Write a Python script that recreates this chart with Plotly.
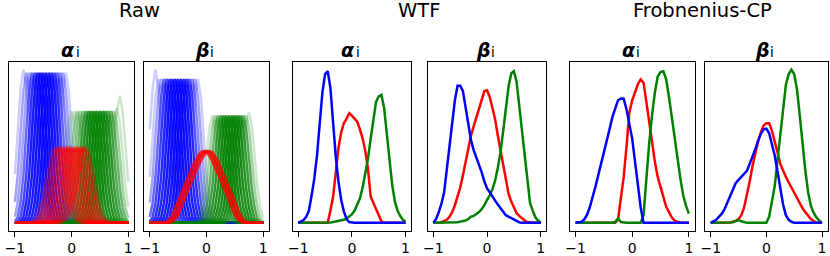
import numpy as np
import plotly.graph_objects as go

# ---------------- data ----------------
x_grid = np.linspace(-1, 1, 41)          # step 0.05

# WTF
wtf_alpha_blue = [0, 0.007, 0.018, 0.04, 0.08, 0.18, 0.29, 0.44, 0.63, 0.85,
                  0.97, 0.99, 0.88, 0.64, 0.43, 0.27, 0.15, 0.075, 0.025, 0.005,
                  0, 0, 0, 0, 0, 0, 0, 0, 0, 0,
                  0, 0, 0, 0, 0, 0, 0, 0, 0, 0, 0]
wtf_alpha_red = [0, 0, 0, 0, 0, 0, 0, 0, 0, 0,
                 0, 0, 0.08, 0.17, 0.33, 0.49, 0.59, 0.65, 0.68, 0.715,
                 0.70, 0.68, 0.66, 0.61, 0.55, 0.47, 0.35, 0.17, 0.13, 0.08,
                 0.04, 0.01, 0, 0, 0, 0, 0, 0, 0, 0, 0]
wtf_alpha_green = [0, 0, 0, 0, 0, 0, 0, 0, 0, 0,
                   0, 0, 0.003, 0.005, 0.008, 0.011, 0.015, 0.02, 0.028, 0.04,
                   0.055, 0.08, 0.12, 0.16, 0.23, 0.32, 0.42, 0.55, 0.68, 0.79,
                   0.825, 0.835, 0.75, 0.57, 0.40, 0.25, 0.14, 0.08, 0.045, 0.02, 0.007]
wtf_beta_blue = [0, 0.025, 0.07, 0.125, 0.2, 0.35, 0.53, 0.69, 0.8, 0.895,
                 0.895, 0.86, 0.76, 0.665, 0.54, 0.475, 0.43, 0.385, 0.33, 0.27,
                 0.225, 0.2, 0.17, 0.145, 0.12, 0.095, 0.075, 0.05, 0.04, 0.03,
                 0.02, 0.008, 0.003, 0, 0, 0, 0, 0, 0, 0, 0]
wtf_beta_red = [0, 0, 0, 0.005, 0.012, 0.02, 0.04, 0.07, 0.115, 0.17,
                0.23, 0.31, 0.395, 0.5, 0.57, 0.63, 0.685, 0.745, 0.795, 0.86,
                0.865, 0.82, 0.75, 0.675, 0.57, 0.48, 0.39, 0.3, 0.19, 0.14,
                0.1, 0.063, 0.045, 0.028, 0.015, 0.005, 0, 0, 0, 0, 0]
wtf_beta_green = [0, 0, 0, 0, 0, 0, 0, 0, 0, 0.004,
                  0.008, 0.012, 0.015, 0.025, 0.04, 0.045, 0.055, 0.07, 0.09, 0.115,
                  0.15, 0.18, 0.22, 0.275, 0.36, 0.46, 0.6, 0.76, 0.89, 0.975,
                  0.99, 0.92, 0.76, 0.58, 0.41, 0.25, 0.13, 0.08, 0.036, 0.015, 0]

# Frobnenius-CP
fcp_alpha_blue = [0, 0.002, 0.006, 0.02, 0.05, 0.1, 0.16, 0.235, 0.31, 0.38,
                  0.455, 0.535, 0.61, 0.69, 0.745, 0.8, 0.812, 0.81, 0.74, 0.65,
                  0.55, 0.4, 0.236, 0.1, 0, 0, 0, 0, 0, 0,
                  0, 0, 0, 0, 0, 0, 0, 0, 0, 0, 0]
fcp_alpha_red = [0, 0, 0, 0, 0, 0, 0, 0, 0, 0,
                 0, 0, 0, 0, 0, 0.02, 0.16, 0.3, 0.5, 0.72,
                 0.8, 0.855, 0.905, 0.937, 0.915, 0.79, 0.65, 0.515, 0.4, 0.3,
                 0.23, 0.16, 0.105, 0.07, 0.035, 0.015, 0.005, 0, 0, 0, 0]
fcp_alpha_green = [0, 0, 0, 0, 0, 0, 0, 0, 0, 0,
                   0, 0, 0, 0, 0.005, 0.03, 0.005, 0, 0, 0,
                   0, 0, 0, 0, 0.05, 0.3, 0.52, 0.7, 0.85, 0.955,
                   0.985, 0.99, 0.935, 0.82, 0.68, 0.545, 0.41, 0.29, 0.18, 0.11, 0.06]
fcp_beta_blue = [0, 0.008, 0.02, 0.04, 0.06, 0.09, 0.13, 0.17, 0.21, 0.26,
                 0.28, 0.3, 0.315, 0.34, 0.385, 0.43, 0.48, 0.535, 0.58, 0.61,
                 0.615, 0.585, 0.52, 0.44, 0.335, 0.22, 0.12, 0.05, 0.02, 0.007,
                 0, 0, 0, 0, 0, 0, 0, 0, 0, 0, 0]
fcp_beta_red = [0, 0, 0, 0, 0, 0, 0, 0.003, 0.008, 0.013,
                0.025, 0.05, 0.1, 0.175, 0.27, 0.37, 0.46, 0.53, 0.59, 0.635,
                0.65, 0.65, 0.6, 0.535, 0.46, 0.385, 0.34, 0.3, 0.265, 0.23,
                0.19, 0.155, 0.12, 0.095, 0.07, 0.045, 0.025, 0.012, 0.003, 0, 0]
fcp_beta_green = [0, 0, 0, 0, 0, 0, 0, 0, 0.003, 0.012,
                  0.018, 0.01, 0.003, 0, 0, 0, 0, 0, 0, 0,
                  0, 0.04, 0.13, 0.24, 0.41, 0.58, 0.75, 0.9, 0.97, 1.0,
                  0.97, 0.87, 0.7, 0.51, 0.34, 0.2, 0.11, 0.065, 0.035, 0.015, 0]

# Raw: bundle profiles (relative height at offsets of 0.05 around each peak)
raw_profile_narrow = [0, 0.01, 0.04, 0.14, 0.32, 0.61, 0.88, 1.0, 0.88, 0.61, 0.32, 0.14, 0.04, 0.01, 0]
raw_profile_red_alpha = [0, 0.015, 0.04, 0.1, 0.2, 0.36, 0.56, 0.77, 0.94, 1.0,
                         0.94, 0.77, 0.56, 0.36, 0.2, 0.1, 0.04, 0.015, 0]
raw_profile_red_beta = [0, 0.015, 0.05, 0.11, 0.2, 0.3, 0.4, 0.5, 0.58, 0.68, 0.78, 0.86, 0.93, 0.98, 1.0,
                        0.98, 0.93, 0.86, 0.78, 0.68, 0.58, 0.5, 0.4, 0.3, 0.2, 0.11, 0.05, 0.015, 0]

# Raw alpha bundles: peak positions, number of curves, peak heights
raw_a_blue_centers = [-0.85, -0.8, -0.75, -0.7, -0.65, -0.6, -0.55, -0.5, -0.45, -0.4, -0.35, -0.3, -0.25, -0.2, -0.15, -0.1]
raw_a_blue_counts = [1, 2, 2, 4, 6, 9, 10, 10, 10, 9, 8, 6, 4, 3, 2, 1]
raw_a_blue_heights = [1.0, 0.98, 0.98, 0.98, 0.98, 0.98, 0.98, 0.98, 0.98, 0.98, 0.98, 0.98, 0.98, 0.98, 0.98, 0.98]
raw_a_green_centers = [0.0, 0.05, 0.1, 0.15, 0.2, 0.25, 0.3, 0.35, 0.4, 0.45, 0.5, 0.55, 0.6, 0.65, 0.7, 0.75, 0.8, 0.85]
raw_a_green_counts = [1, 1, 2, 2, 3, 5, 7, 8, 9, 9, 9, 8, 7, 5, 4, 2, 1, 1]
raw_a_green_heights = [0.73, 0.73, 0.73, 0.73, 0.73, 0.73, 0.73, 0.73, 0.73, 0.73, 0.73, 0.73, 0.73, 0.73, 0.73, 0.73, 0.75, 0.83]
raw_a_red_centers = [-0.3, -0.25, -0.2, -0.15, -0.1, -0.05, 0.0, 0.05, 0.1, 0.15, 0.2, 0.25]
raw_a_red_counts = [2, 3, 4, 4, 5, 5, 5, 5, 5, 4, 4, 3]
raw_a_red_heights = [0.49, 0.49, 0.49, 0.49, 0.49, 0.49, 0.49, 0.49, 0.49, 0.49, 0.49, 0.49]

# Raw beta bundles
raw_b_blue_centers = [-0.9, -0.85, -0.8, -0.75, -0.7, -0.65, -0.6, -0.55, -0.5, -0.45, -0.4, -0.35, -0.3, -0.25, -0.2, -0.15]
raw_b_blue_counts = [1, 1, 2, 4, 6, 8, 9, 10, 10, 10, 9, 8, 5, 3, 2, 1]
raw_b_blue_heights = [1.0, 0.94, 0.94, 0.94, 0.94, 0.94, 0.94, 0.94, 0.94, 0.94, 0.94, 0.94, 0.94, 0.94, 0.94, 0.94]
raw_b_green_centers = [0.1, 0.15, 0.2, 0.25, 0.3, 0.35, 0.4, 0.45, 0.5, 0.55, 0.6, 0.65, 0.7, 0.75]
raw_b_green_counts = [1, 2, 4, 6, 8, 9, 10, 10, 10, 9, 7, 5, 2, 1]
raw_b_green_heights = [0.70, 0.70, 0.70, 0.70, 0.70, 0.70, 0.70, 0.70, 0.70, 0.70, 0.70, 0.70, 0.70, 0.72]
raw_b_red_centers = [-0.05, 0.0, 0.05]
raw_b_red_counts = [8, 12, 8]
raw_b_red_heights = [0.47, 0.47, 0.47]

group_titles = ["Raw", "WTF", "Frobnenius-CP"]
panel_symbols = ["α", "β"]
panel_subscript = "i"
tick_vals = [-1, 0, 1]
tick_text = ["\u22121", "0", "1"]

# ---------------- layout geometry (pixels) ----------------
W, H = 830, 256
panel_px = [(4.3, 129.7), (140.0, 265.4), (289.6, 408.4), (425.6, 544.4), (568.3, 693.7), (704.4, 827.6)]
frame_top, frame_bot = 62.0, 230.5
group_centers_px = [135, 417, 702]
title_y_px = 10
sub_y_px = 50

BLUE, RED, GREEN = (0, 0, 255), (255, 0, 0), (0, 128, 0)
FONT = "DejaVu Sans"

fig = go.Figure()


def add_line(panel, y, rgb, width=2.5, alpha=1.0):
    n = panel + 1
    fig.add_trace(go.Scatter(
        x=x_grid, y=y, mode="lines",
        line=dict(color="rgba(%d,%d,%d,%.4f)" % (rgb + (alpha,)), width=width),
        xaxis="x" if n == 1 else "x%d" % n, yaxis="y" if n == 1 else "y%d" % n,
        hoverinfo="skip", showlegend=False))


def bundle_curve(center, height, profile):
    half = (len(profile) - 1) // 2
    ci = int(round((center + 1) / 0.05))
    y = np.zeros(len(x_grid))
    for j, v in enumerate(profile):
        k = ci + j - half
        if 0 <= k < len(x_grid):
            y[k] = v * height
    return y


def add_bundle(panel, centers, counts, heights, profile, rgb, a=0.2):
    for c, n, h in zip(centers, counts, heights):
        alpha = 1 - (1 - a) ** n
        add_line(panel, bundle_curve(c, h, profile), rgb, width=2.5, alpha=alpha)


# Raw panels
add_bundle(0, raw_a_blue_centers, raw_a_blue_counts, raw_a_blue_heights, raw_profile_narrow, BLUE)
add_bundle(0, raw_a_green_centers, raw_a_green_counts, raw_a_green_heights, raw_profile_narrow, GREEN)
add_bundle(0, raw_a_red_centers, raw_a_red_counts, raw_a_red_heights, raw_profile_red_alpha, RED)
add_bundle(1, raw_b_blue_centers, raw_b_blue_counts, raw_b_blue_heights, raw_profile_narrow, BLUE)
add_bundle(1, raw_b_green_centers, raw_b_green_counts, raw_b_green_heights, raw_profile_narrow, GREEN)
add_bundle(1, raw_b_red_centers, raw_b_red_counts, raw_b_red_heights, raw_profile_red_beta, RED)

# WTF and Frobnenius-CP panels (red, green, then blue on top)
for panel, (r, g, b) in {2: (wtf_alpha_red, wtf_alpha_green, wtf_alpha_blue),
                         3: (wtf_beta_red, wtf_beta_green, wtf_beta_blue),
                         4: (fcp_alpha_red, fcp_alpha_green, fcp_alpha_blue),
                         5: (fcp_beta_red, fcp_beta_green, fcp_beta_blue)}.items():
    add_line(panel, r, RED)
    add_line(panel, g, GREEN)
    add_line(panel, b, BLUE)

layout = dict(width=W, height=H, margin=dict(l=0, r=0, t=0, b=0),
              paper_bgcolor="white", plot_bgcolor="white", showlegend=False,
              font=dict(family=FONT, color="black"))
ydom = [1 - frame_bot / H, 1 - frame_top / H]
for i, (l, r) in enumerate(panel_px):
    n = i + 1
    xs = "" if n == 1 else str(n)
    layout["xaxis" + xs] = dict(domain=[l / W, r / W], range=[-1.1, 1.1], anchor="y" + xs,
                                tickvals=tick_vals, ticktext=tick_text, ticks="outside",
                                ticklen=5, tickwidth=1, tickcolor="black",
                                tickfont=dict(family=FONT, size=14, color="black"),
                                showline=True, mirror=True, linecolor="black", linewidth=1,
                                showgrid=False, zeroline=False, fixedrange=True)
    layout["yaxis" + xs] = dict(domain=ydom, range=[-0.05, 1.05], anchor="x" + xs,
                                showticklabels=False, ticks="",
                                showline=True, mirror=True, linecolor="black", linewidth=1,
                                showgrid=False, zeroline=False, fixedrange=True)

annotations = []
for t, cx in zip(group_titles, group_centers_px):
    annotations.append(dict(text=t, x=cx / W, y=1 - title_y_px / H, xref="paper", yref="paper",
                            xanchor="center", yanchor="middle", showarrow=False,
                            borderpad=0, borderwidth=0,
                            font=dict(family=FONT, size=19.5, color="black")))
for i, (l, r) in enumerate(panel_px):
    cx = (l + r) / 2 + 3.5
    annotations.append(dict(text="<b><i>" + panel_symbols[i % 2] + "</i></b>",
                            x=cx / W, y=1 - sub_y_px / H,
                            xref="paper", yref="paper", xanchor="right", yanchor="middle",
                            showarrow=False, borderpad=0, borderwidth=0,
                            font=dict(family=FONT, size=19, color="black")))
    annotations.append(dict(text=panel_subscript,
                            x=(cx + 0.5) / W, y=1 - (sub_y_px + 2) / H,
                            xref="paper", yref="paper", xanchor="left", yanchor="middle",
                            showarrow=False, borderpad=0, borderwidth=0,
                            font=dict(family=FONT, size=13.5, color="black")))
layout["annotations"] = annotations
fig.update_layout(**layout)

fig.write_html("out.html", config={"displayModeBar": False},
               post_script="document.body.style.margin='0px';")
